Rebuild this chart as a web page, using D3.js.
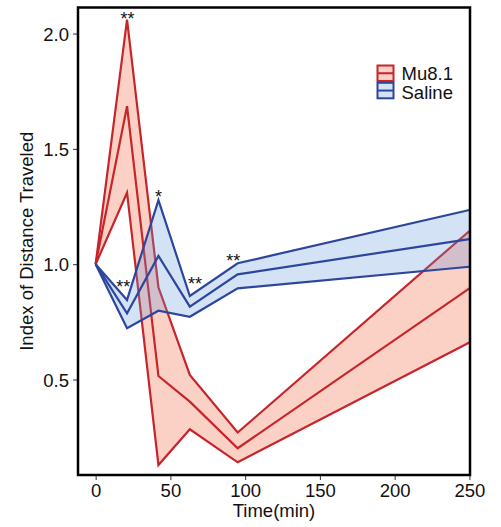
<!DOCTYPE html>
<html>
<head>
<meta charset="utf-8">
<script src="https://cdn.jsdelivr.net/npm/d3@7"></script>
<style>
  body { margin: 0; background: #fff; }
  svg { display: block; font-family: "Liberation Sans", Arial, sans-serif; }
</style>
</head>
<body>
<div id="chart"></div>
<script>
// time points (min)
var times = [0, 21, 42, 63, 95, 250];
// Mu8.1 band: upper / mean / lower
var muUpper = [1.0, 2.06, 0.90, 0.52, 0.27, 1.144];
var muMean  = [1.0, 1.685, 0.515, 0.404, 0.202, 0.895];
var muLower = [1.0, 1.31, 0.129, 0.284, 0.141, 0.66];
// Saline band: upper / mean / lower
var salUpper = [1.0, 0.845, 1.278, 0.862, 1.004, 1.235];
var salMean  = [1.0, 0.787, 1.036, 0.816, 0.956, 1.109];
var salLower = [1.0, 0.722, 0.798, 0.772, 0.895, 0.989];

var xTicks = [0, 50, 100, 150, 200, 250];
var yTicks = [0.5, 1.0, 1.5, 2.0];

// significance marks (time, value, text)
var marks = [
  { t: 21.3, v: 2.082, s: "**" },
  { t: 42.0, v: 1.307, s: "*" },
  { t: 18.5, v: 0.920, s: "**" },
  { t: 66.5, v: 0.931, s: "**" },
  { t: 92.1, v: 1.030, s: "**" }
];

var groups = [
  { name: "Mu8.1", upper: muUpper, mean: muMean, lower: muLower,
    line: "#c8242b", fill: "rgb(244,120,90)", op: 0.35 },
  { name: "Saline", upper: salUpper, mean: salMean, lower: salLower,
    line: "#2d469d", fill: "rgb(100,150,220)", op: 0.28 }
];

var W = 501, H = 527;
var plot = { left: 78, right: 470, top: 7.5, bottom: 475 };

var svg = d3.select("#chart").append("svg")
    .attr("width", W)
    .attr("height", H);

var x = d3.scaleLinear().domain([-11.8, 250.4]).range([plot.left, plot.right]);
var y = d3.scaleLinear().domain([0.0859, 2.113]).range([plot.bottom, plot.top]);

svg.append("clipPath").attr("id", "clip")
  .append("rect")
    .attr("x", plot.left).attr("y", plot.top)
    .attr("width", plot.right - plot.left)
    .attr("height", plot.bottom - plot.top);

var body = svg.append("g").attr("clip-path", "url(#clip)");

var area = d3.area()
    .x(function(d) { return x(d.t); })
    .y0(function(d) { return y(d.lo); })
    .y1(function(d) { return y(d.hi); });
var line = d3.line()
    .x(function(d) { return x(d.t); })
    .y(function(d) { return y(d.v); });

groups.forEach(function(g) {
  var band = times.map(function(t, i) { return { t: t, lo: g.lower[i], hi: g.upper[i] }; });
  body.append("path")
      .attr("d", area(band))
      .attr("fill", g.fill)
      .attr("fill-opacity", g.op);
  [g.upper, g.mean, g.lower].forEach(function(vals) {
    var pts = times.map(function(t, i) { return { t: t, v: vals[i] }; });
    body.append("path")
        .attr("d", line(pts))
        .attr("fill", "none")
        .attr("stroke", g.line)
        .attr("stroke-width", 2.2)
        .attr("stroke-linejoin", "miter");
  });
});

// asterisks
svg.selectAll(".mark")
  .data(marks)
  .enter()
  .append("text")
    .attr("x", function(d) { return x(d.t); })
    .attr("y", function(d) { return y(d.v) + 10; })
    .attr("text-anchor", "middle")
    .attr("font-size", 18)
    .attr("fill", "#111")
    .text(function(d) { return d.s; });

// axes
var xAxis = svg.append("g")
    .attr("transform", "translate(0," + plot.bottom + ")")
    .call(d3.axisBottom(x).tickValues(xTicks).tickSize(5).tickPadding(4).tickFormat(d3.format("d")));
var yAxis = svg.append("g")
    .attr("transform", "translate(" + plot.left + ",0)")
    .call(d3.axisLeft(y).tickValues(yTicks).tickSize(5).tickPadding(4).tickFormat(d3.format(".1f")));

[xAxis, yAxis].forEach(function(a) {
  a.select(".domain").remove();
  a.selectAll(".tick line").attr("stroke", "#333").attr("stroke-width", 1);
  a.selectAll(".tick text")
    .attr("font-size", 18.5)
    .attr("font-family", "Liberation Sans, Arial, sans-serif")
    .attr("fill", "#111");
});
yAxis.selectAll(".tick text").attr("dy", "0.36em");

// frame
svg.append("rect")
    .attr("x", plot.left).attr("y", plot.top)
    .attr("width", plot.right - plot.left)
    .attr("height", plot.bottom - plot.top)
    .attr("fill", "none")
    .attr("stroke", "#000")
    .attr("stroke-width", 2.5);

// axis titles
svg.append("text")
    .attr("x", (plot.left + plot.right) / 2)
    .attr("y", 517)
    .attr("text-anchor", "middle")
    .attr("font-size", 18.5)
    .attr("fill", "#111")
    .text("Time(min)");
svg.append("text")
    .attr("transform", "translate(33," + ((plot.top + plot.bottom) / 2) + ") rotate(-90)")
    .attr("text-anchor", "middle")
    .attr("font-size", 18.5)
    .attr("fill", "#111")
    .text("Index of Distance Traveled");

// legend
var legend = svg.append("g").attr("transform", "translate(377.5,65.5)");
groups.forEach(function(g, i) {
  var row = legend.append("g").attr("transform", "translate(0," + (i * 17.3) + ")");
  row.append("rect")
      .attr("width", 16).attr("height", 15.5)
      .attr("fill", "#fff");
  row.append("rect")
      .attr("width", 16).attr("height", 15.5)
      .attr("fill", g.fill).attr("fill-opacity", g.op)
      .attr("stroke", g.line).attr("stroke-width", 2);
  row.append("line")
      .attr("x1", 0).attr("x2", 16).attr("y1", 7.75).attr("y2", 7.75)
      .attr("stroke", g.line).attr("stroke-width", 2);
});
legend.selectAll(".lab")
  .data(groups)
  .enter()
  .append("text")
    .attr("x", 24)
    .attr("y", function(d, i) { return 14.5 + i * 19; })
    .attr("font-size", 18.5)
    .attr("fill", "#111")
    .text(function(d) { return d.name; });
</script>
</body>
</html>
